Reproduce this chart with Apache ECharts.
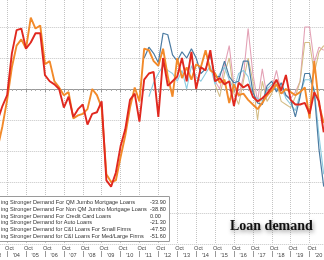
<!DOCTYPE html>
<html><head><meta charset="utf-8">
<script src="https://cdn.jsdelivr.net/npm/echarts@6/dist/echarts.min.js"></script>
<style>html,body{margin:0;padding:0;background:#fff;overflow:hidden}#c{width:324px;height:260px}</style>
</head><body><div id="c"></div>
<script>
// Quarterly survey dates, 2003 Q3 .. 2020 Q4
const quarterLabels = [];
for (let y = 2003; y <= 2020; y++) for (let q = 1; q <= 4; q++) if (!(y === 2003 && q < 3)) quarterLabels.push(y + 'Q' + q);
const quarterTimes = quarterLabels.map(s => +s.slice(0, 4) + (+s.slice(5) - 1) / 4);

// Net % reporting stronger demand
const ciMedLarge = [-20, -11,
  -4, 23, 38, 39,   26, 30, 36, 36,   9, 5, 3, 0,   -12, -5, -18, -13,
  -10, -23, -16, -15,   -8, -59, -63, -54,   -37, -26, -7, -3,   -21, 6, 10, 11,
  -18, 20, 2, 5,   8, 20, 5, 24,   0, 14, 12, 25,   5, 7, 3, 5,
  -11, 4, 1, 3,   -5, -8, -6, -3,   1, 6, -1, 9,   -7, -10, -10, -9,   -16, -2, -8, -28];
const ciSmall = [-38, -24,
  -7, 14, 28, 32,   26, 46, 39, 41,   16, 18, 5, 1,   -4, -2, -19, -17,
  -16, -13, 0, -4,   -12, -55, -60, -59,   -44, -30, -12, 1,   -8, 26, 25, 18,
  15, 26, 8, -5,   20, 7, 14, 6,   16, 14, 25, 12,   10, 4, 6, -9,
  3, -4, -3, -7,   -10, -13, -9, -4,   -1, 3, -3, 0,   -2, -4, -2, 1,   -19, 18, -10, -22];
const creditCard = [null, null,
  null, null, null, null,   null, null, null, null,   null, null, null, null,   null, null, null, null,
  null, null, null, null,   null, null, null, null,   null, null, null, null,   null, 20, 27, 23,
  17, 36, 35, 22,   18, 24, 20, 26,   20, 10, 13, 22,   8, 8, 18, 8,
  4, 5, 18, 18,   -2, -9, -10, 2,   5, -2, 4, -4,   -7, -18, -5, 10,   10, -2, -39, -63];
const autoLoans = [null, null,
  null, null, null, null,   null, null, null, null,   null, null, null, null,   null, null, null, null,
  null, null, null, null,   null, null, null, null,   null, null, null, null,   null, null, -5, 4,
  10, 15, 12, 10,   5, 12, 0, 15,   8, 5, 10, 15,   3, 10, 14, 6,
  0, 10, 12, 8,   -5, -6, -8, 0,   3, 0, 2, -6,   -10, -14, -3, 6,   6, 0, -30, -55];
const qmJumbo = [null, null,
  null, null, null, null,   null, null, null, null,   null, null, null, null,   null, null, null, null,
  null, null, null, null,   null, null, null, null,   null, null, null, null,   null, null, null, null,
  null, null, null, null,   null, null, null, null,   null, null, null, null,   5, 0, 15, 28,
  2, -5, 8, 39,   10, -8, 13, -5,   0, 12, -2, -4,   -6, -2, 5, 40,   40, 17, 27, 25];
const nonQmJumbo = [null, null,
  null, null, null, null,   null, null, null, null,   null, null, null, null,   null, null, null, null,
  null, null, null, null,   null, null, null, null,   null, null, null, null,   null, null, null, null,
  null, null, null, null,   null, null, null, null,   null, null, null, null,   3, -5, 10, 20,
  -3, -10, 5, 20,   5, -20, 5, -8,   -3, 5, -8, -10,   -12, -5, 5, 30,   30, 10, 24, 28];

const legendNames = [
  'ing Stronger Demand For QM Jumbo Mortgage Loans',
  'ing Stronger Demand For Non QM Jumbo Mortgage Loans',
  'ing Stronger Demand For Credit Card Loans',
  'ing Stronger Demand for Auto Loans',
  'ing Stronger Demand for C&I Loans For Small Firms',
  'ing Stronger Demand for C&I Loans For Med/Large Firms'
];
const legendValues = ['-33.90', '-38.80', '0.00', '-21.30', '-47.50', '-51.60'];
const quarterTickLabel = 'Oct';
const yearTickLabels = ["'03", "'04", "'05", "'06", "'07", "'08", "'09", "'10", "'11", "'12", "'13", "'14", "'15", "'16", "'17", "'18", "'19", "'20", "'21"];
const title = 'Loan demand';

const pts = arr => quarterTimes.map((t, i) => [t, arr[i]]);
const chart = echarts.init(document.getElementById('c'), null, {renderer: 'canvas'});
const axisFont = {fontFamily: 'Liberation Sans', fontSize: 5.6, color: '#444'};
const legendTexts = [];
legendNames.forEach((n, i) => {
  legendTexts.push({type: 'text', left: 1, top: 199.5 + i * 6.8, z: 101,
    style: {text: n, fontFamily: 'Liberation Sans', fontSize: 5.6, fill: '#333'}});
  legendTexts.push({type: 'text', left: 150, top: 199.5 + i * 6.8, z: 101,
    style: {text: legendValues[i], fontFamily: 'Liberation Sans', fontSize: 5.6, fill: '#333'}});
});
chart.setOption({
  animation: false,
  backgroundColor: '#fff',
  grid: {left: -11.75, right: -4.45, top: -4, bottom: 16, containLabel: false, outerBoundsMode: 'none'},
  xAxis: [{
    type: 'value', min: 2003, max: 2021, interval: 1,
    axisLine: {show: true, lineStyle: {color: '#999', width: 1}},
    axisTick: {show: true, length: 3, lineStyle: {color: '#999'}},
    minorTick: {show: true, splitNumber: 4, length: 2, lineStyle: {color: '#aaa'}},
    splitLine: {show: true, lineStyle: {color: '#c4c4c4', type: 'dotted', width: 1}},
    axisLabel: {show: true, margin: 1.5, showMinLabel: true, showMaxLabel: true, hideOverlap: false,
      formatter: () => '{a|' + quarterTickLabel + '}',
      rich: {a: Object.assign({padding: [0, 0, 0, 4.6]}, axisFont)}}
  }, {
    type: 'value', min: 2003, max: 2021, interval: 1, position: 'bottom', offset: 7,
    axisLine: {show: false},
    axisTick: {show: true, length: 6, lineStyle: {color: '#999'}},
    splitLine: {show: false},
    axisLabel: {show: true, margin: 1, align: 'left', showMinLabel: true, showMaxLabel: true, hideOverlap: false,
      formatter: v => '{a|' + yearTickLabels[v - 2003] + '}',
      rich: {a: Object.assign({padding: [0, 0, 0, 5.5]}, axisFont)}}
  }],
  yAxis: {
    type: 'value', min: -100, max: 60, interval: 20,
    axisLine: {show: false}, axisTick: {show: false}, axisLabel: {show: false},
    splitLine: {show: true, lineStyle: {color: '#c4c4c4', type: 'dotted', width: 1}}
  },
  series: [
    {name: 'QM Jumbo', type: 'line', data: pts(qmJumbo), symbol: 'none', lineStyle: {width: 1.1, color: '#e3a2b6'}, itemStyle: {color: '#e3a2b6'}},
    {name: 'Non QM Jumbo', type: 'line', data: pts(nonQmJumbo), symbol: 'none', lineStyle: {width: 1.1, color: '#d4bd86'}, itemStyle: {color: '#d4bd86'}},
    {name: 'Auto', type: 'line', data: pts(autoLoans), symbol: 'none', lineStyle: {width: 1.1, color: '#8ccbe0'}, itemStyle: {color: '#8ccbe0'}},
    {name: 'Credit Card', type: 'line', data: pts(creditCard), symbol: 'none', lineStyle: {width: 1.2, color: '#4b7ba2'}, itemStyle: {color: '#4b7ba2'}},
    {name: 'C&I Small', type: 'line', data: pts(ciSmall), symbol: 'none', lineStyle: {width: 1.9, color: '#f28a2a'}, itemStyle: {color: '#f28a2a'}},
    {name: 'C&I Med/Large', type: 'line', data: pts(ciMedLarge), symbol: 'none', lineStyle: {width: 1.9, color: '#e0281f'}, itemStyle: {color: '#e0281f'}}
  ],
  graphic: [
    {type: 'rect', left: -2, top: 196, z: 100, shape: {width: 171, height: 45},
      style: {fill: '#fff', stroke: '#9a9a9a', lineWidth: 1}},
    ...legendTexts,
    {type: 'text', left: 230, top: 219, z: 101,
      style: {text: title, fontFamily: 'Liberation Serif', fontWeight: 'bold', fontSize: 14, fill: '#111',
        textShadowColor: 'rgba(0,0,0,0.45)', textShadowBlur: 4, textShadowOffsetX: 1, textShadowOffsetY: 2}}
  ]
});
</script>
</body></html>
